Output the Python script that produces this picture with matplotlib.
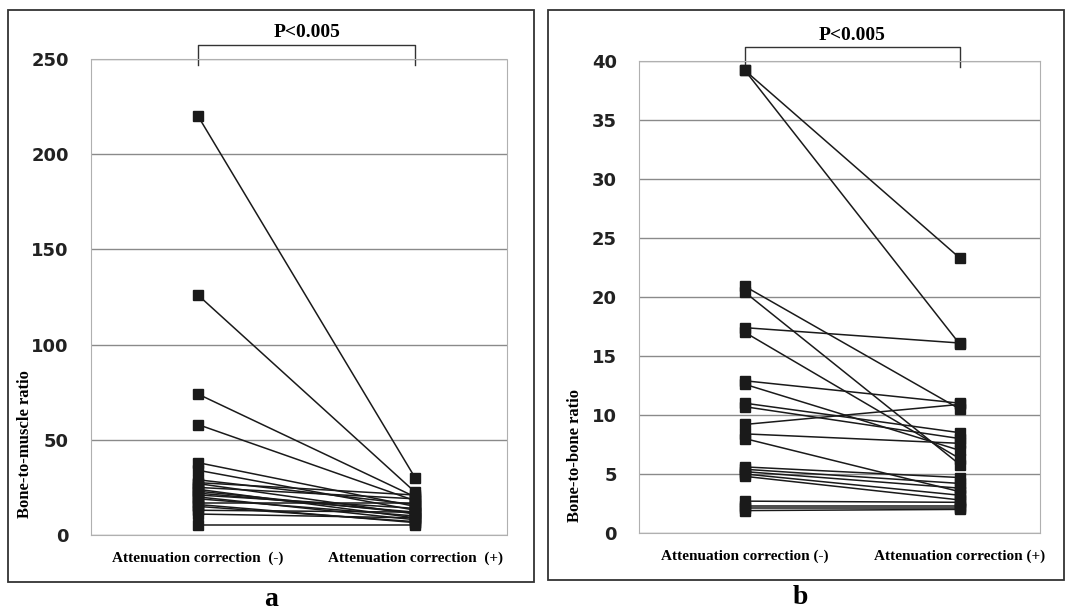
import matplotlib
matplotlib.use("Agg")
import matplotlib.pyplot as plt
from matplotlib.patches import Rectangle

# panel a: bone-to-muscle ratio, before / after attenuation correction
muscle_before = [220, 126, 74, 58, 38, 34, 29, 27.5, 27, 25, 24, 23, 22, 21, 20, 19, 17, 16, 15, 13, 11, 5.5]
muscle_after = [30, 22.5, 20, 18, 15, 13, 16, 21, 11, 19, 9, 11.5, 12, 14, 8, 10, 17, 6.5, 7, 12, 9, 5.5]

# panel b: bone-to-bone ratio
bone_before = [39.2, 39.2, 20.9, 20.4, 17.4, 17.0, 12.9, 12.6, 11.0, 10.7, 9.2, 8.4, 8.0,
               5.6, 5.4, 5.2, 5.0, 4.8, 2.7, 2.3, 2.1, 1.9]
bone_after = [23.3, 16.0, 10.5, 5.8, 16.1, 6.3, 11.0, 7.0, 8.5, 8.0, 10.9, 7.6, 3.5,
              4.7, 4.2, 3.8, 3.2, 2.8, 2.6, 2.3, 2.1, 2.0]

x_labels_a = ["Attenuation correction  (-)", "Attenuation correction  (+)"]
x_labels_b = ["Attenuation correction (-)", "Attenuation correction (+)"]

W, H = 1072, 616
fig = plt.figure(figsize=(W / 100, H / 100), dpi=100)


def px_axes(left, top, right, bottom):
    return fig.add_axes([left / W, 1 - bottom / H, (right - left) / W, (bottom - top) / H])


def draw_panel(ax, before, after, labels, yticks, ylim, xlim):
    for b, a in zip(before, after):
        ax.plot([0, 1], [b, a], color="#1a1a1a", lw=1.1, marker="s", ms=6.5,
                mfc="#1a1a1a", mec="#1a1a1a", zorder=3)
    ax.set_xlim(*xlim)
    ax.set_ylim(*ylim)
    ax.set_yticks(yticks)
    ax.set_yticklabels([str(t) for t in yticks], fontsize=13, fontweight="bold",
                       family="DejaVu Sans", color="#222")
    ax.set_xticks([0, 1])
    ax.set_xticklabels(labels, fontsize=11, fontweight="bold", family="Liberation Serif")
    ax.tick_params(axis="both", length=0)
    ax.tick_params(axis="y", pad=16)
    ax.tick_params(axis="x", pad=12)
    ax.yaxis.grid(True, color="#8a8a8a", lw=1.0)
    ax.set_axisbelow(True)
    for s in ax.spines.values():
        s.set_color("#b0b0b0")
        s.set_linewidth(0.8)
        s.set_linestyle((0, (2, 1)))

    # significance bracket
    tr = ax.get_xaxis_transform()
    ax.plot([0, 0, 1, 1], [0.987, 1.03, 1.03, 0.987], transform=tr, color="#333",
            lw=1.0, clip_on=False)
    ax.text(0.5, 1.055, "P<0.005", transform=tr, ha="center", va="center",
            fontsize=14, fontweight="bold", family="Liberation Serif")


ax_a = px_axes(91, 59, 507, 535)
draw_panel(ax_a, muscle_before, muscle_after, x_labels_a,
           [0, 50, 100, 150, 200, 250], (0, 250), (-0.493, 1.423))

ax_b = px_axes(639, 61, 1040, 533)
draw_panel(ax_b, bone_before, bone_after, x_labels_b,
           list(range(0, 45, 5)), (0, 40), (-0.493, 1.373))

# outer frames around each panel
fig.patches.append(Rectangle((8 / W, 1 - 582 / H), 526 / W, 572 / H, transform=fig.transFigure,
                             fill=False, edgecolor="#333", lw=1.3))
fig.patches.append(Rectangle((548 / W, 1 - 580 / H), 516 / W, 570 / H, transform=fig.transFigure,
                             fill=False, edgecolor="#333", lw=1.3))

# y axis titles
fig.text(25 / W, 1 - 444 / H, "Bone-to-muscle ratio", rotation=90, ha="center", va="center",
         fontsize=12, fontweight="bold", family="Liberation Serif")
fig.text(575 / W, 1 - 455 / H, "Bone-to-bone ratio", rotation=90, ha="center", va="center",
         fontsize=12, fontweight="bold", family="Liberation Serif")

# panel letters
fig.text(271 / W, 1 - 600 / H, "a", ha="center", va="center", fontsize=20,
         fontweight="bold", family="Liberation Serif")
fig.text(800 / W, 1 - 598 / H, "b", ha="center", va="center", fontsize=20,
         fontweight="bold", family="Liberation Serif")

fig.savefig("out.png", dpi=100)
